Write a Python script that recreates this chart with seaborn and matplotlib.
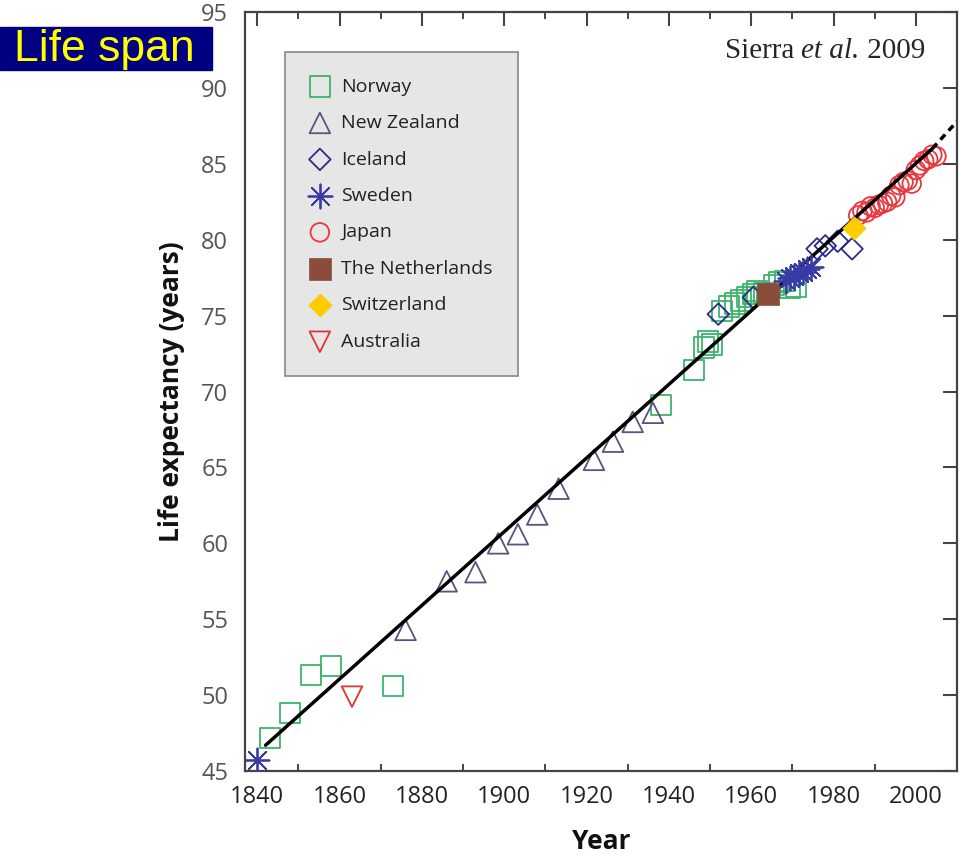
import matplotlib
matplotlib.use("Agg")
import matplotlib.pyplot as plt
import matplotlib.patches as patches
import seaborn as sns

# data
norway_years = [1843, 1848, 1853, 1858, 1873, 1938, 1946, 1948.5, 1949.5, 1950.5,
                1953, 1954.5, 1956, 1957.5, 1959, 1960.5, 1961.5, 1963, 1965.5,
                1966.8, 1968.2, 1969.4, 1970.9]
norway_values = [47.2, 48.8, 51.3, 51.9, 50.6, 69.1, 71.4, 72.9, 73.3, 73.1,
                 75.3, 75.6, 75.8, 76.0, 76.2, 76.4, 76.6, 76.5, 77.0,
                 77.2, 77.3, 76.8, 76.9]
nz_years = [1876, 1886, 1893, 1898.5, 1903.3, 1908, 1913.2, 1921.8, 1926.4, 1931.2, 1936.1]
nz_values = [54.3, 57.5, 58.1, 60.0, 60.6, 61.9, 63.6, 65.5, 66.7, 68.0, 68.6]
iceland_years = [1952, 1960.5, 1976, 1978, 1981, 1984.5]
iceland_values = [75.1, 76.2, 79.4, 79.6, 79.9, 79.4]
sweden_years = [1840, 1968.5, 1969.5, 1970.5, 1971.5, 1972.5, 1973.5, 1974.5]
sweden_values = [45.7, 77.3, 77.5, 77.6, 77.8, 77.9, 78.1, 78.2]
japan_years = list(range(1986, 2006))
japan_values = [81.6, 81.9, 81.8, 82.2, 82.1, 82.3, 82.4, 82.5, 82.9, 82.8,
                83.6, 83.8, 83.9, 83.7, 84.6, 84.9, 85.2, 85.3, 85.6, 85.5]
nl_years = [1964]
nl_values = [76.4]
swiss_years = [1985]
swiss_values = [80.8]
aus_years = [1863]
aus_values = [49.9]

fit_years = [1842, 2004]
fit_values = [46.7, 86.0]
ext_years = [2004, 2010]
ext_values = [86.0, 87.8]

sns.set_style("white")
plt.rcParams["font.family"] = ["Open Sans", "DejaVu Sans"]

fig = plt.figure(figsize=(9.6, 8.55), dpi=100)
ax = fig.add_axes([0.2552, 0.0982, 0.7417, 0.8877])

# name, years, values, marker, colour, style, size
series = [
    ("Norway", norway_years, norway_values, "s", "#3cb46a", "open", 210),
    ("New Zealand", nz_years, nz_values, "^", "#55557f", "open", 220),
    ("Iceland", iceland_years, iceland_values, "D", "#2b2b8c", "open", 120),
    ("Sweden", sweden_years, sweden_values, (8, 2, 0), "#3a3aa5", "line", 300),
    ("Japan", japan_years, japan_values, "o", "#e8383d", "open", 180),
    ("The Netherlands", nl_years, nl_values, "s", "#8b4c3c", "filled", 230),
    ("Switzerland", swiss_years, swiss_values, "D", "#ffcc00", "filled", 140),
    ("Australia", aus_years, aus_values, "v", "#e03535", "open", 220),
]

sns.lineplot(x=fit_years, y=fit_values, color="black", lw=2.5, ax=ax, zorder=3)
sns.lineplot(x=ext_years, y=ext_values, color="black", lw=2.5,
             linestyle=(0, (2, 1.5)), ax=ax, zorder=3)

for name, xs, ys, mk, col, style, size in series:
    if style == "filled":
        sns.scatterplot(x=xs, y=ys, marker=mk, s=size, color=col,
                        edgecolor=col, linewidth=0.5, label=name, ax=ax, zorder=4)
    elif style == "line":
        sns.scatterplot(x=xs, y=ys, marker=mk, s=size, color=col,
                        linewidth=1.3, label=name, ax=ax, zorder=4)
    else:
        sns.scatterplot(x=xs, y=ys, marker=mk, s=size, facecolors="none",
                        edgecolor=col, linewidth=1.3, label=name, ax=ax, zorder=2)

ax.set_xlim(1837, 2010)
ax.set_ylim(45, 95)
ax.set_xticks(range(1840, 2001, 20))
ax.set_xticks(range(1850, 2001, 20), minor=True)
ax.set_yticks(range(45, 96, 5))
ax.tick_params(axis="both", which="major", direction="in", length=10, width=1.5,
               top=True, right=True, labelsize=17, colors="#444444")
ax.tick_params(axis="x", which="minor", direction="in", length=5, width=1.2,
               top=True, bottom=True)
ax.tick_params(axis="x", which="major", labelcolor="#222222", pad=10)
ax.tick_params(axis="y", which="major", pad=12, labelcolor="#555555")
for sp in ax.spines.values():
    sp.set_color("#444444")
    sp.set_linewidth(1.6)

ax.set_xlabel("Year", fontsize=19, fontweight="bold", labelpad=14, color="#111111")
ax.set_ylabel("Life expectancy (years)", fontsize=19, fontweight="bold",
              labelpad=12, color="#111111")

leg = ax.legend(loc="upper left", bbox_to_anchor=(0.056, 0.947), borderaxespad=0,
                fontsize=14, frameon=True, fancybox=False, framealpha=1,
                facecolor="#e6e6e6", edgecolor="#888888", labelspacing=0.95,
                handlelength=1.0, handletextpad=0.6, borderpad=1.3)
leg.get_frame().set_linewidth(1.2)
for t in leg.get_texts():
    t.set_color("#222222")

# title badge
fig.patches.append(patches.Rectangle((0, 1 - 70 / 855), 212 / 960, 43 / 855,
                                     transform=fig.transFigure, color="#000080"))
fig.text(104 / 960, 1 - 49 / 855, "Life span", ha="center", va="center",
         fontsize=32, color="#ffff00", family=["Liberation Sans", "DejaVu Sans"])

# citation
fig.canvas.draw()
r = fig.canvas.get_renderer()
x_end = 925 / 960
y_base = 1 - 58 / 855
serif = ["Liberation Serif", "DejaVu Serif"]
t3 = fig.text(x_end, y_base, " 2009", ha="right", va="baseline", fontsize=21,
              family=serif)
w3 = t3.get_window_extent(r).width / fig.bbox.width
t2 = fig.text(x_end - w3, y_base, "et al.", ha="right", va="baseline", fontsize=21,
              style="italic", family=serif)
w2 = t2.get_window_extent(r).width / fig.bbox.width
fig.text(x_end - w3 - w2, y_base, "Sierra ", ha="right", va="baseline", fontsize=21,
         family=serif)

fig.savefig("out.png", dpi=100)
